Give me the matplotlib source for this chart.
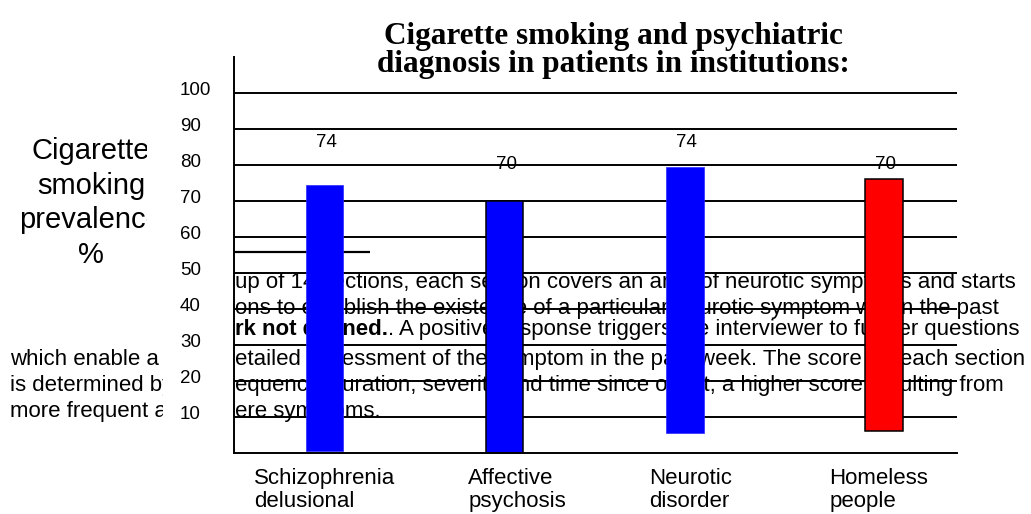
import numpy as np
import matplotlib
matplotlib.use("Agg")
import matplotlib.pyplot as plt
from matplotlib.transforms import Bbox, ScaledTranslation
from matplotlib.text import Annotation

# ---- data -------------------------------------------------------------
categories = ["Schizophrenia\ndelusional", "Affective\npsychosis",
              "Neurotic\ndisorder", "Homeless\npeople"]
prevalence = [74, 70, 74, 70]          # smoking prevalence, %
y_ticks = [10, 20, 30, 40, 50, 60, 70, 80, 90, 100]

title = "Cigarette smoking and psychiatric\ndiagnosis in patients in institutions:"
y_title = "Cigarette\nsmoking\nprevalence\n%"

# text block lying behind the chart (left part, right part of each line)
note_left = ["", "", "month. Error! Bookma", "which enable a more",
             "is determined by", "more frequent and"]
note_right = ["up of 14 sections, each section covers an area of neurotic symptoms and starts",
              "ons to establish the existence of a particular neurotic symptom within the past",
              None,
              "etailed assessment of the symptom in the past week. The score for each section",
              "equency, duration, severity and time since onset, a higher score resulting from",
              "ere symptoms."]
note_bold = "rk not defined."
note_after_bold = ". A positive response triggers the interviewer to further questions"

# ---- layout / style ---------------------------------------------------
W, H = 1031, 514
bar_x = np.arange(len(categories)) + np.array([0, 0, 0, 0.104])
label_x = np.arange(len(categories)) + np.array([0, 0.07, 0.03, 0.075])
bar_base = [0.5, 0, 5.5, 6]
bar_colors = ["#0000ff", "#0000ff", "#0000ff", "#ff0000"]
bar_edges = ["#2a2aff", "black", "#2a2aff", "black"]
bar_lw = [0.5, 1.1, 0.5, 1.1]
value_label_y = [86.3, 80, 86.3, 80]

plt.rcParams["font.family"] = ["Liberation Sans", "DejaVu Sans"]


def fx(px):
    return px / W


def fy(py):
    return 1 - py / H


fig = plt.figure(figsize=(W / 100, H / 100), dpi=100)
ax = fig.add_axes([fx(234), fy(452.7), (957 - 234) / W, 396 / H])
ax.patch.set_visible(False)

ax.set_xlim(-0.502, 3.51)
ax.set_ylim(0, 110)
ax.set_axisbelow(True)
ax.set_yticks(y_ticks)
ax.yaxis.grid(True, color="black", linewidth=1.4)
ax.tick_params(axis="y", length=0, pad=38.9, labelsize=13.5)
lift = ScaledTranslation(0, 4 / 100, fig.dpi_scale_trans)
for lbl in ax.get_yticklabels():
    lbl.set_horizontalalignment("left")
    lbl.set_transform(lbl.get_transform() + lift)

ax.set_xticks(label_x)
ax.set_xticklabels(categories, multialignment="left", linespacing=1.1)
ax.tick_params(axis="x", length=0, pad=11, labelsize=16)

for side in ("top", "right"):
    ax.spines[side].set_visible(False)
for side in ("left", "bottom"):
    ax.spines[side].set_linewidth(1.4)

ax.bar(bar_x, prevalence, bottom=bar_base, width=0.208, color=bar_colors,
       edgecolor=bar_edges, linewidth=bar_lw, zorder=2)

# short rule under the axis title box
ax.plot([-0.502, 0.252], [55.7, 55.7], color="black", linewidth=1.6,
        solid_capstyle="butt", zorder=0.6)

for x, v, ly in zip(bar_x, prevalence, value_label_y):
    ax.text(x + 0.01, ly, f"{v}", ha="center", va="center", fontsize=13.5,
            zorder=3)

# ---- title and axis title ----------------------------------------------
fig.text(fx(613), fy(72), title, ha="center", va="baseline",
         family="Liberation Serif", fontweight="bold", fontsize=22.5,
         linespacing=0.95)

yt = fig.text(fx(91), fy(263), y_title, ha="center", va="baseline",
              multialignment="center", fontsize=21, linespacing=1.3)
yt.set_clip_box(Bbox([[0, 0], [146.5, H]]))
yt.set_clip_on(True)

# ---- text block behind the chart -----------------------------------------
base0, step = 288.3, 25.68
note_size = 16.0
for i in range(6):
    yb = fy(base0 + i * step)
    if note_left[i]:
        t = fig.text(fx(10), yb, note_left[i], ha="left", va="baseline",
                     fontsize=note_size, zorder=-1,
                     fontweight="bold" if i == 2 else "normal")
        top = H - 339.5 if i == 2 else H
        t.set_clip_box(Bbox([[0, 0], [163, top]]))
        t.set_clip_on(True)
    if note_right[i] is not None:
        fig.text(fx(235), yb, note_right[i], ha="left", va="baseline",
                 fontsize=note_size, zorder=-1)
    else:
        b = fig.text(fx(235), yb, note_bold, ha="left", va="bottom",
                     fontsize=note_size, fontweight="bold", zorder=-1)
        rest = Annotation(note_after_bold, xy=(1, 0), xycoords=b,
                          ha="left", va="bottom", fontsize=note_size)
        rest.set_zorder(-1)
        fig.add_artist(rest)

fig.savefig("out.png", dpi=100)
